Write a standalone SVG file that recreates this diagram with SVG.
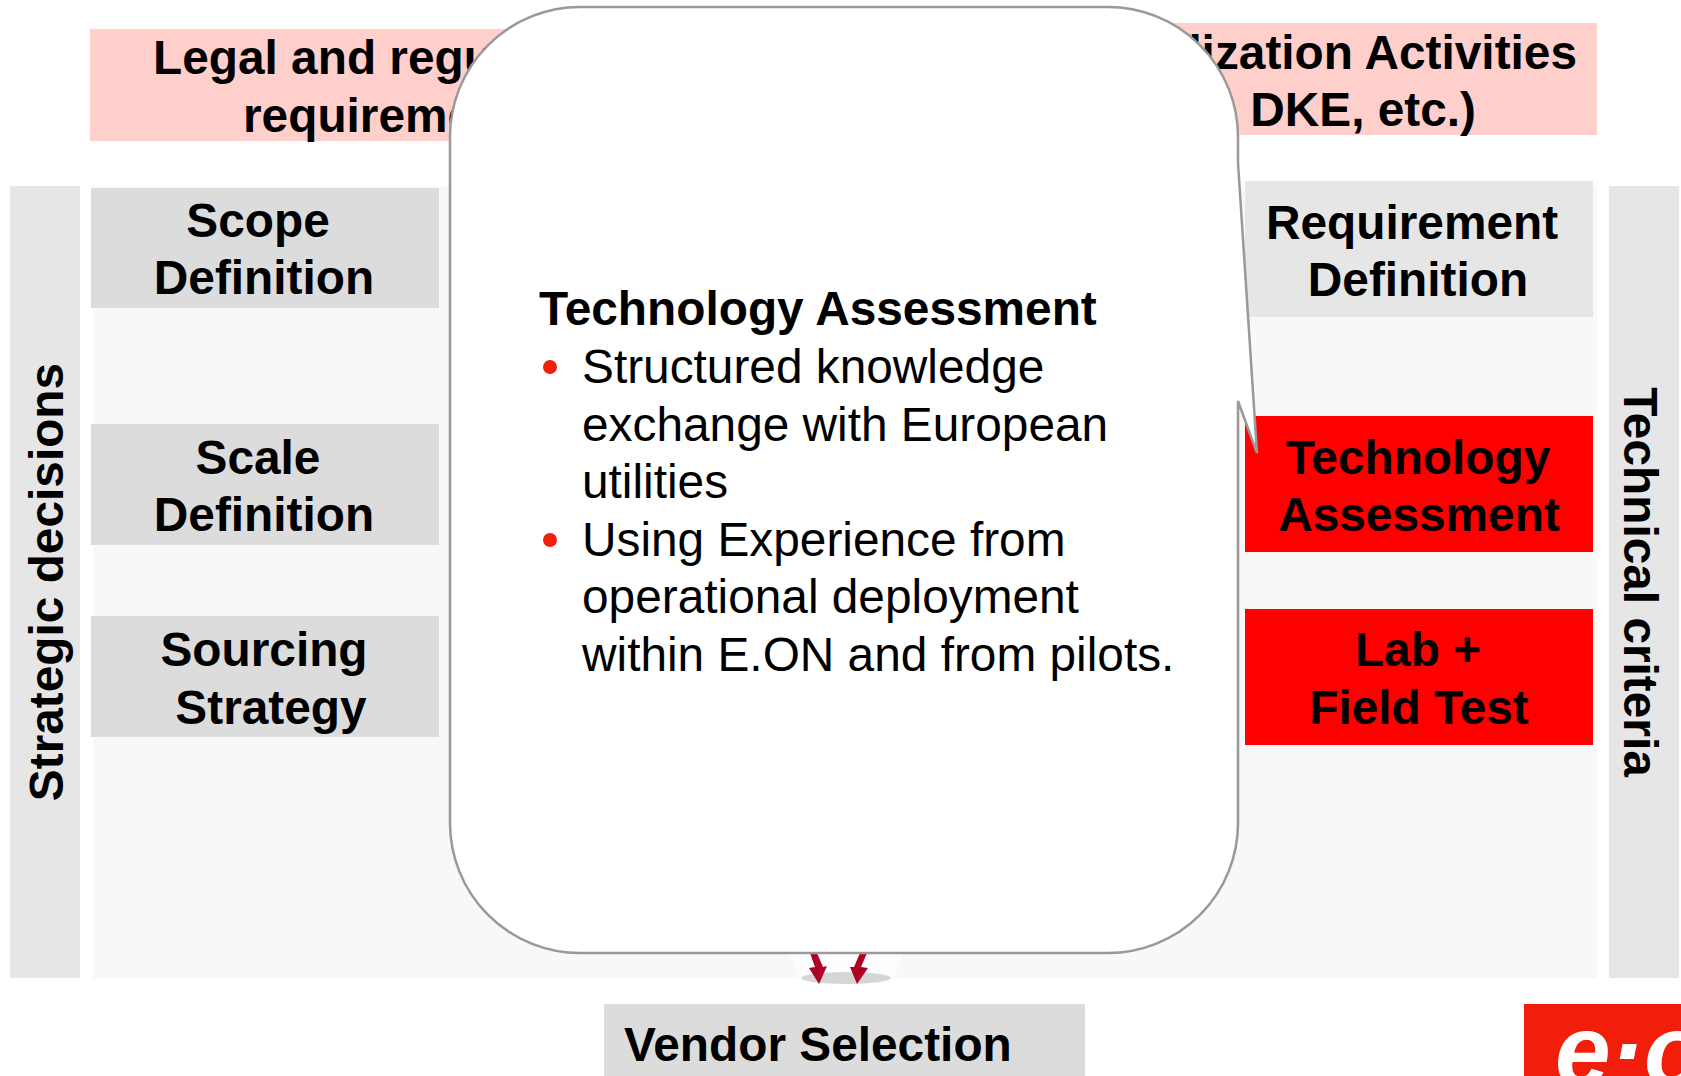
<svg xmlns="http://www.w3.org/2000/svg" width="1681" height="1076" viewBox="0 0 1681 1076">
<style>
text{font-family:"Liberation Sans",Arial,sans-serif;font-size:47.8px;fill:#000}
.b{font-weight:700}
.g{fill:#dcdcdc}.l{fill:#e6e6e6}.r{fill:#f00}.p{fill:#ffcfcc}
.d{fill:#f01e0a}
</style>
<rect width="1681" height="1076" fill="#fff"/>
<rect x="93" y="186" width="1504" height="792" fill="#f8f8f8"/>
<polygon points="788,953 904,953 893,978 800,978" fill="#fdfdfd"/>
<ellipse cx="846" cy="978" rx="45" ry="6" fill="#d6d6d6"/>
<g id="legal"><rect class="p" x="90" y="29" width="500" height="112"/>
<text class="b" x="153" y="74">Legal and regulatory</text><text class="b" x="243" y="132">requirements</text></g>
<g id="standardization"><rect class="p" x="1100" y="23" width="497" height="112"/>
<text class="b" x="1577" y="69" text-anchor="end">Standardization Activities</text><text class="b" x="1476" y="126" text-anchor="end">(DIN, DKE, etc.)</text></g>
<g id="strategic"><rect class="l" x="10" y="186" width="70" height="792"/>
<text class="b" transform="translate(63,582) rotate(-90)" text-anchor="middle">Strategic decisions</text></g>
<g id="technical"><rect class="l" x="1609" y="186" width="70" height="792"/>
<text class="b" transform="translate(1624,582) rotate(90)" text-anchor="middle">Technical criteria</text></g>
<g id="scope"><rect class="g" x="91" y="188" width="348" height="120"/>
<text class="b" x="258" y="237" text-anchor="middle">Scope</text><text class="b" x="264" y="294" text-anchor="middle">Definition</text></g>
<g id="scale"><rect class="g" x="91" y="424" width="348" height="121"/>
<text class="b" x="258" y="474" text-anchor="middle">Scale</text><text class="b" x="264" y="531" text-anchor="middle">Definition</text></g>
<g id="sourcing"><rect class="g" x="91" y="616" width="348" height="121"/>
<text class="b" x="264" y="666" text-anchor="middle">Sourcing</text><text class="b" x="271" y="724" text-anchor="middle">Strategy</text></g>
<g id="requirement"><rect class="l" x="1245" y="181" width="348" height="136"/>
<text class="b" x="1412" y="239" text-anchor="middle">Requirement</text><text class="b" x="1418" y="296" text-anchor="middle">Definition</text></g>
<g id="techassess"><rect class="r" x="1245" y="416" width="348" height="136"/>
<text class="b" x="1418" y="474" text-anchor="middle">Technology</text><text class="b" x="1419" y="531" text-anchor="middle">Assessment</text></g>
<g id="labtest"><rect class="r" x="1245" y="609" width="348" height="136"/>
<text class="b" x="1418" y="666" text-anchor="middle">Lab +</text><text class="b" x="1419" y="724" text-anchor="middle">Field Test</text></g>
<g id="connectors" fill="#b10026">
<polygon points="810,953 817,953 823,967 827,966 819,984 809,968 815,967"/>
<polygon points="860,953 867,953 861,967 868,968 857,984 850,967 854,967"/>
</g>
<g id="vendor"><rect class="g" x="604" y="1004" width="481" height="72"/>
<text class="b" x="624" y="1061">Vendor Selection</text></g>
<g id="logo"><rect class="d" x="1524" y="1004" width="157" height="72"/>
<text x="1555" y="1085" style="font-size:100px;font-weight:700;font-style:italic;fill:#fff">e·on</text></g>
<g id="callout"><path d="M580,7H1108A130,130 0 0 1 1238,137V163L1257,453L1238,401V823A130,130 0 0 1 1108,953H580A130,130 0 0 1 450,823V137A130,130 0 0 1 580,7Z" fill="#fff" stroke="#999" stroke-width="2.5"/>
<text class="b" x="539" y="325">Technology Assessment</text>
<circle cx="550" cy="367" r="7" class="d"/>
<text x="582" y="383">Structured knowledge</text>
<text x="582" y="441">exchange with European</text>
<text x="582" y="498">utilities</text>
<circle cx="550" cy="540" r="7" class="d"/>
<text x="582" y="556">Using Experience from</text>
<text x="582" y="613">operational deployment</text>
<text x="582" y="671">within E.ON and from pilots.</text></g>
</svg>
